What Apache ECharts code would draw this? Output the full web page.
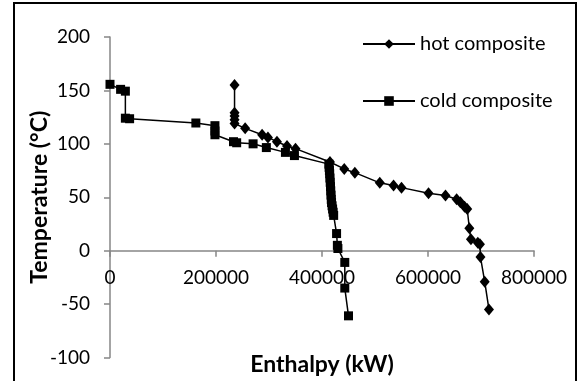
<!DOCTYPE html>
<html>
<head>
<meta charset="utf-8">
<script src="https://cdn.jsdelivr.net/npm/echarts@6/dist/echarts.min.js"></script>
<style>html,body{margin:0;padding:0;background:#fff;}#c{width:578px;height:381px;}</style>
</head>
<body>
<div id="c"></div>
<script>
var hotX = [235000, 235000, 235000, 235000, 235000, 255000, 287000, 298000, 315000, 334000, 350000, 415000, 442000, 462000, 509000, 535000, 550000, 601000, 633000, 654000, 661000, 669000, 674000, 678000, 681000, 694000, 698000, 699000, 707000, 715000];
var hotY = [155, 129, 126, 122.5, 119, 114.5, 108.5, 106, 102, 98, 95.5, 83, 76.5, 73, 63.5, 61, 59, 53.7, 51.6, 48.2, 45.3, 41.2, 39, 21, 10.7, 7.4, 6, -6, -29, -55];
var coldX = [0, 20000, 29000, 29000, 37000, 162000, 198000, 198000, 198000, 233000, 239000, 270000, 295000, 331000, 348000, 413000, 413500, 414000, 414500, 415000, 415500, 416000, 416500, 417000, 417500, 418000, 419000, 420000, 421000, 422000, 427500, 429000, 430000, 443000, 443000, 450000];
var coldY = [155.7, 151, 149.3, 124, 123.5, 119.5, 117, 112, 108.5, 102, 101, 100, 96.5, 92, 89, 81, 78, 75, 72, 68, 64, 60, 56, 52, 48, 45, 42, 39, 36, 33, 16, 5, 2, -11, -35, -61];
var seriesNames = ['hot composite', 'cold composite'];
var xTitle = 'Enthalpy (kW)';
var yTitle = 'Temperature (\u00B0C)';
var xMin = 0, xMax = 800000, xStep = 200000;
var yMin = -100, yMax = 200, yStep = 50;

function pairs(xs, ys) { return xs.map(function (x, i) { return [x, ys[i]]; }); }

var FONT = 'Lato';
var W = 578, H = 381;
var gTop = 37, gBottom = 23.5, gLeft = 110, gRight = 44;
// the horizontal axis sits at y = 0: a second grid ends exactly there
var plotH = H - gTop - gBottom;
var zeroFromBottom = gBottom + plotH * (0 - yMin) / (yMax - yMin);

var axisGrey = '#868686';
var chart = echarts.init(document.getElementById('c'), null, {renderer: 'canvas'});
chart.setOption({
  animation: false,
  backgroundColor: '#fff',
  grid: [
    {left: gLeft, right: gRight, top: gTop, bottom: gBottom, containLabel: false, outerBoundsMode: 'none'},
    {left: gLeft, right: gRight, top: gTop, bottom: zeroFromBottom, containLabel: false, outerBoundsMode: 'none'}
  ],
  xAxis: [
    {gridIndex: 0, type: 'value', min: xMin, max: xMax, interval: xStep, show: false},
    {gridIndex: 1, type: 'value', min: xMin, max: xMax, interval: xStep, position: 'bottom',
     axisLine: {show: true, onZero: false, lineStyle: {color: axisGrey, width: 1.5}},
     axisTick: {show: true, inside: false, length: 6, lineStyle: {color: axisGrey, width: 1.5}},
     axisLabel: {margin: 18, color: '#000', fontFamily: FONT, fontSize: 19, formatter: function (v) { return String(v); }},
     splitLine: {show: false},
     name: xTitle, nameLocation: 'middle', nameGap: 102,
     nameTextStyle: {fontFamily: FONT, fontSize: 23, fontWeight: 'bold', color: '#000'}}
  ],
  yAxis: [
    {gridIndex: 0, type: 'value', min: yMin, max: yMax, interval: yStep,
     axisLine: {show: true, onZero: false, lineStyle: {color: axisGrey, width: 1.5}},
     axisTick: {show: true, inside: false, length: 6, lineStyle: {color: axisGrey, width: 1.5}},
     axisLabel: {margin: 20, color: '#000', fontFamily: FONT, fontSize: 19},
     splitLine: {show: false}},
    {gridIndex: 1, type: 'value', min: 0, max: yMax, show: false}
  ],
  legend: [
    {data: [seriesNames[0]], orient: 'vertical', left: 362, top: 33, padding: 0, itemWidth: 52, itemHeight: 12, itemGap: 0,
     textStyle: {fontFamily: FONT, fontSize: 20, color: '#000', lineHeight: 22}},
    {data: [seriesNames[1]], orient: 'vertical', left: 362, top: 90, padding: 0, itemWidth: 52, itemHeight: 12, itemGap: 0,
     textStyle: {fontFamily: FONT, fontSize: 20, color: '#000', lineHeight: 22}}
  ],
  graphic: [
    {type: 'rect', silent: true, z: 100,
     shape: {x: 14, y: 3, width: 562, height: 420},
     style: {fill: 'none', stroke: '#000', lineWidth: 2}},
    {type: 'text', silent: true, x: 40, y: gTop + plotH / 2, rotation: Math.PI / 2,
     style: {text: yTitle, fill: '#000', font: 'bold 23px Lato', textAlign: 'center', textVerticalAlign: 'middle', align: 'center', verticalAlign: 'middle'}}
  ],
  series: [
    {name: seriesNames[0], type: 'line', xAxisIndex: 0, yAxisIndex: 0, data: pairs(hotX, hotY), symbol: 'diamond', symbolSize: [10, 12],
     showAllSymbol: true, color: '#000', lineStyle: {color: '#000', width: 1.5}, itemStyle: {color: '#000'}, z: 5},
    {name: seriesNames[1], type: 'line', xAxisIndex: 0, yAxisIndex: 0, data: pairs(coldX, coldY), symbol: 'rect', symbolSize: 9,
     showAllSymbol: true, color: '#000', lineStyle: {color: '#000', width: 1.5}, itemStyle: {color: '#000'}, z: 5}
  ]
});
</script>
</body>
</html>
